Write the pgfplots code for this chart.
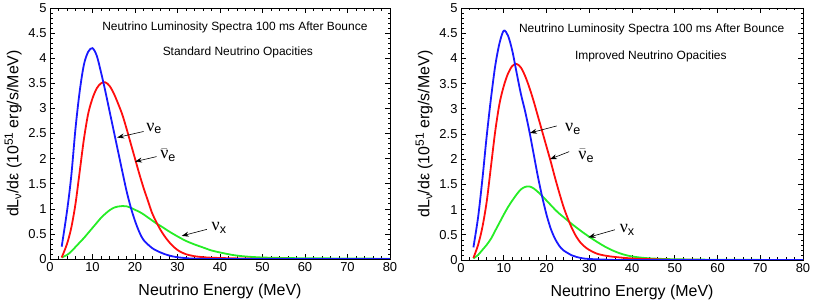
\documentclass[border=0pt]{standalone}
\usepackage{fontspec}
\setmainfont{Liberation Sans}
\newfontfamily\serifgr{Liberation Serif}
\usepackage{pgfplots}
\pgfplotsset{compat=1.18}
\usetikzlibrary{arrows.meta}
\definecolor{cblue}{rgb}{0.1,0.1,1}
\definecolor{cred}{rgb}{1,0.05,0.05}
\definecolor{cgreen}{rgb}{0.15,0.93,0.15}
\newcommand{\nuu}{{\serifgr ν}}
\newcommand{\nub}{$\bar{\hbox{\serifgr ν}}$}
\pgfplotsset{
 spec/.style={
  scale only axis, anchor=south west,
  xmin=0,xmax=80,ymin=0,ymax=5,
  xtick={0,10,20,30,40,50,60,70,80},
  ytick={0,0.5,1,1.5,2,2.5,3,3.5,4,4.5,5},
  minor x tick num=4, minor y tick num=4,
  tick align=inside,
  major tick length=5bp, minor tick length=2.5bp,
  axis line style={line width=0.8bp},
  every tick/.style={black, line width=0.6bp},
  tick label style={font=\fontsize{13}{15}\selectfont},
  /pgf/number format/assume math mode=true,
  yticklabel style={/pgf/number format/fixed},
  xlabel={Neutrino Energy (MeV)},
  xlabel style={yshift=-5bp},
  ylabel={dL\raisebox{-0.35ex}{\fontsize{11}{12}\selectfont ν}/dε (10\raisebox{0.65ex}{\fontsize{12}{12}\selectfont 51} erg/s/MeV)},
  label style={font=\fontsize{16}{18}\selectfont},
  every axis plot/.append style={line width=1.8bp, no markers, smooth},
 },
}
\tikzset{
 ann/.style={font=\fontsize{12}{14}\selectfont},
 nul/.style={font=\fontsize{18}{20}\selectfont},
 arr/.style={-{Stealth[length=7bp,width=5bp]}, line width=0.6bp},
}
\begin{document}
\begin{tikzpicture}
\useasboundingbox (0,0) rectangle (831bp,305bp);
% ---------- Left panel: standard opacities
\begin{axis}[spec, at={(50bp,46bp)}, width=340bp, height=251bp]
\addplot[cgreen] coordinates {(2.75,0.03)(4,0.08)(5,0.15)(6,0.24)(7,0.33)(8,0.42)(9,0.52)(10,0.62)(11,0.72)(12,0.82)(13,0.9)(14,0.97)(15,1.02)(16,1.045)(17,1.055)(18,1.05)(19,1.02)(20,0.98)(21,0.94)(22,0.89)(23,0.83)(24,0.77)(25,0.71)(26,0.66)(28,0.55)(30,0.45)(32,0.36)(34,0.29)(36,0.23)(38,0.17)(40,0.13)(43,0.08)(46,0.05)(50,0.03)(55,0.02)(60,0.015)(70,0.01)(80,0.005)};
\addplot[cred] coordinates {(2.75,0.03)(4,0.3)(5,0.62)(6,1.1)(7,1.75)(8,2.4)(9,2.9)(10,3.2)(11,3.4)(12,3.5)(13,3.52)(14,3.45)(15,3.3)(16,3.1)(17,2.88)(18,2.6)(19,2.3)(20,2.0)(21,1.7)(22,1.42)(23,1.17)(24,0.92)(25,0.74)(26,0.58)(27,0.45)(28,0.34)(29,0.25)(30,0.18)(31,0.13)(32,0.095)(34,0.055)(37,0.03)(40,0.02)(45,0.01)(50,0.005)(60,0.001)(80,0)};
\addplot[cblue] coordinates {(2.75,0.245)(4,0.95)(5,1.65)(6,2.6)(7,3.35)(8,3.88)(9,4.13)(10,4.2)(11,4.05)(12,3.72)(13,3.35)(14,2.95)(15,2.55)(16,2.15)(17,1.75)(18,1.36)(19,1.03)(20,0.76)(21,0.54)(22,0.38)(24,0.22)(26,0.13)(28,0.07)(30,0.035)(33,0.01)(36,0.003)(40,0)(80,0)};
\node[ann] at (axis cs:43.5,4.62) {Neutrino Luminosity Spectra 100 ms After Bounce};
\node[ann] at (axis cs:44.2,4.12) {Standard Neutrino Opacities};
\node[nul] at (axis cs:24.5,2.6) {\nuu\textsubscript{e}};
\draw[arr] (axis cs:22,2.54) -- (axis cs:15.8,2.42);
\node[nul] at (axis cs:27.8,2.07) {\nub\textsubscript{e}};
\draw[arr] (axis cs:25.1,2.04) -- (axis cs:20,1.94);
\node[nul] at (axis cs:39.8,0.62) {\nuu\textsubscript{x}};
\draw[arr] (axis cs:36.9,0.59) -- (axis cs:31,0.46);
\end{axis}
% ---------- Right panel: improved opacities
\begin{axis}[spec, at={(461bp,45bp)}, width=342bp, height=252bp]
\addplot[cgreen] coordinates {(2.9,0.03)(4,0.1)(5,0.2)(6,0.3)(7,0.42)(8,0.58)(9,0.74)(10,0.9)(11,1.05)(12,1.18)(13,1.3)(14,1.4)(15,1.45)(16,1.46)(17,1.42)(18,1.35)(19,1.27)(20,1.18)(21,1.09)(22,1.0)(23,0.92)(24,0.85)(25,0.78)(26,0.71)(28,0.58)(30,0.46)(32,0.35)(34,0.25)(36,0.17)(38,0.11)(40,0.07)(43,0.04)(46,0.025)(50,0.015)(60,0.005)(80,0)};
\addplot[cred] coordinates {(2.9,0.04)(4,0.3)(5,0.65)(6,1.15)(7,1.85)(8,2.55)(9,3.1)(10,3.45)(11,3.7)(12,3.85)(13,3.89)(14,3.82)(15,3.65)(16,3.42)(17,3.15)(18,2.85)(19,2.55)(20,2.25)(21,1.95)(22,1.63)(23,1.33)(24,1.05)(25,0.82)(26,0.62)(27,0.46)(28,0.34)(29,0.26)(30,0.2)(32,0.12)(35,0.07)(40,0.03)(45,0.015)(50,0.005)(60,0.001)(80,0)};
\addplot[cblue] coordinates {(2.9,0.25)(4,0.85)(5,1.6)(6,2.45)(7,3.2)(8,3.85)(9,4.3)(10,4.55)(11,4.45)(12,4.15)(13,3.72)(14,3.3)(15,2.95)(16,2.55)(17,2.1)(18,1.65)(19,1.25)(20,0.9)(21,0.62)(22,0.42)(23,0.28)(24,0.19)(26,0.09)(28,0.04)(30,0.02)(35,0.005)(40,0)(80,0)};
\node[ann] at (axis cs:44.6,4.57) {Neutrino Luminosity Spectra 100 ms After Bounce};
\node[ann] at (axis cs:44.4,4.04) {Improved Neutrino Opacities};
\node[nul] at (axis cs:26.2,2.6) {\nuu\textsubscript{e}};
\draw[arr] (axis cs:22.4,2.66) -- (axis cs:16.1,2.52);
\node[nul] at (axis cs:29.3,2.07) {\nub\textsubscript{e}};
\draw[arr] (axis cs:25.3,2.15) -- (axis cs:20.8,2.0);
\node[nul] at (axis cs:38.9,0.6) {\nuu\textsubscript{x}};
\draw[arr] (axis cs:36,0.6) -- (axis cs:29.8,0.45);
\end{axis}
\end{tikzpicture}
\end{document}
